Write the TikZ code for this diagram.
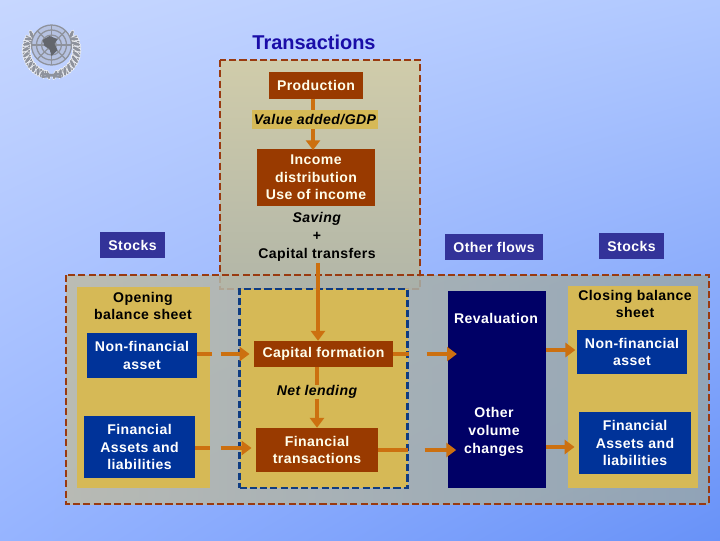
\documentclass[tikz,border=0pt]{standalone}
\usepackage{fontspec}
\setmainfont{Liberation Sans}[LetterSpace=3]
\newfontfamily\titlefont{Liberation Sans}
\usetikzlibrary{arrows.meta,shadings}
\definecolor{brownbox}{HTML}{993A00}
\definecolor{bluebox}{HTML}{003399}
\definecolor{navybox}{HTML}{000066}
\definecolor{stockbox}{HTML}{333399}
\definecolor{panel}{HTML}{D6B956}
\definecolor{flowline}{HTML}{CC7010}
\definecolor{dashbrown}{HTML}{993A10}
\definecolor{dashblue}{HTML}{0F3C82}
\definecolor{skyul}{HTML}{C7D7FF}
\definecolor{skyur}{HTML}{B0C8FF}
\definecolor{skyll}{HTML}{96B4FF}
\definecolor{skylr}{HTML}{6892F8}
\definecolor{uppertop}{HTML}{D0CCAA}
\definecolor{upperbot}{HTML}{B2B6A8}
\definecolor{lowerleft}{HTML}{BEBCA8}
\definecolor{lowerright}{HTML}{96A6AC}
\definecolor{titleblue}{HTML}{1A0DA8}
\definecolor{emblemgray}{HTML}{8E929C}
\tikzset{
	wh/.style 2 args={minimum width=#1*0.025cm,minimum height=#2*0.025cm},
	box/.style={inner sep=0pt,align=center,font=\bfseries\fontsize{10}{12.6}\selectfont},
	brownnode/.style={box,fill=brownbox,text=white!92!yellow},
	bluenode/.style={box,fill=bluebox,text=white},
	stocknode/.style={box,fill=stockbox,text=white},
	navynode/.style={box,fill=navybox,text=white},
	panelnode/.style={box,fill=panel,text=black},
	plaintext/.style={box,text=black},
	slanted/.style={font=\bfseries\itshape\fontsize{10}{12.6}\selectfont},
	flow/.style={draw=flowline,line width=3.5pt,-{Triangle[length=7pt,width=10pt]}},
	gapflow/.style 2 args={flow,dash pattern=on #1 off #2 on 200pt off 0pt},
	framedash/.style={line width=2.1pt,dash pattern=on 5pt off 2.3pt},
	leaf/.style={fill=emblemgray,draw=white,line width=0.3pt},
}
\begin{document}
\begin{tikzpicture}[x=0.025cm,y=-0.025cm]
	% Background
	\shade[upper left=skyul,upper right=skyur,lower left=skyll,lower right=skylr] (0,0) rectangle (720,540);
	\useasboundingbox (0,0) rectangle (720,540);

	% Emblem
	\begin{scope}[shift={(51.5,50)}]
		\foreach \a in {0,...,9}
		{
			\begin{scope}[rotate={-90+14+\a*12}]
				\fill[leaf,rotate around={35:(25,-2.5)}] (25,-2.5) ellipse [x radius=5,y radius=2];
				\fill[leaf,rotate around={-35:(25,2.5)}] (25,2.5) ellipse [x radius=5,y radius=2];
			\end{scope}
			\begin{scope}[rotate={-90-14-\a*12}]
				\fill[leaf,rotate around={35:(25,-2.5)}] (25,-2.5) ellipse [x radius=5,y radius=2];
				\fill[leaf,rotate around={-35:(25,2.5)}] (25,2.5) ellipse [x radius=5,y radius=2];
			\end{scope}
		}
		\draw[emblemgray,line width=1.6pt] (-11,24) .. controls (-4,23) and (4,27) .. (10,27);
		\draw[emblemgray,line width=1.6pt] (11,24) .. controls (4,23) and (-4,27) .. (-10,27);
		\fill[skyul!70!emblemgray] (0,-5) circle (20);
		\foreach \r in {20,15,10,5}
			\draw[emblemgray,line width=0.9pt] (0,-5) circle (\r);
		\foreach \a in {0,45,...,315}
			\draw[emblemgray,line width=0.9pt] (0,-5) -- ++(\a:20);
		\fill[emblemgray!70!black] (-9,-10) -- (-2,-14) -- (6,-11) -- (3,-6) -- (6,0) -- (0,6) -- (-2,-1) -- (-7,-4) -- cycle;
	\end{scope}

	% Title
	\node[box,text=titleblue,font=\titlefont\bfseries\fontsize{14.2}{16}\selectfont] (title) at (314,42) {Transactions};

	% Frames
	\draw[draw=dashbrown,framedash,top color=uppertop,bottom color=upperbot] (220,60) rectangle (420,289);
	\draw[draw=dashbrown,framedash,fill opacity=0.85,left color=lowerleft,right color=lowerright] (66,275) rectangle (709,504);

	% Panels
	\node[panelnode,wh={133}{201}] (opening) at (143.5,387.5) {};
	\node[panelnode,wh={130}{202}] (closing) at (633,387) {};
	\node[panelnode,wh={168}{199},draw=dashblue,framedash] (inner) at (323.5,388.5) {};
	\node[navynode,wh={98}{197}] (other) at (497,389.5) {};

	% Upper column
	\node[brownnode,wh={94}{27}] (production) at (316,85.5) {Production};
	\node[brownnode,wh={118}{57}] (income) at (316,177.5) {Income\\distribution\\Use of income};
	\draw[flow,shorten >=-1pt] (production.south -| 313,0) -- (income.north -| 313,0);
	\node[panelnode,slanted,wh={126}{19}] (valueadded) at (315,119.5) {Value added/GDP};
	\node[plaintext,inner sep=1pt] (saving) at (317,237) {\textit{Saving}\\+\\Capital transfers};

	% Stocks and flows headings
	\node[stocknode,wh={65}{26}] (stocksleft) at (132.5,245) {Stocks};
	\node[stocknode,wh={98}{26}] (otherflows) at (494,247) {Other flows};
	\node[stocknode,wh={65}{26}] (stocksright) at (631.5,246) {Stocks};

	% Opening and closing balance sheets
	\node[plaintext] (openingtext) at (143,306) {Opening\\balance sheet};
	\node[plaintext] (closingtext) at (635,304) {Closing balance\\sheet};
	\node[bluenode,wh={110}{45}] (nonfinleft) at (142,355.5) {Non-financial\\asset};
	\node[bluenode,wh={111}{62}] (finleft) at (139.5,447) {Financial\\Assets and\\liabilities};
	\node[bluenode,wh={110}{44}] (nonfinright) at (632,352) {Non-financial\\asset};
	\node[bluenode,wh={112}{62}] (finright) at (635,443) {Financial\\Assets and\\liabilities};

	% Middle column
	\node[brownnode,wh={139}{26}] (capital) at (323.5,354) {Capital formation};
	\node[brownnode,wh={122}{44}] (fintrans) at (317,450) {Financial\\transactions};
	\node[plaintext,slanted] (netlending) at (317,392) {Net lending};

	% Other flows
	\node[box,text=white] (revaluation) at (496,318) {Revaluation};
	\node[box,text=white] (volume) at (494,432) {Other\\volume\\changes};

	% Flows
	\draw[flow] (saving.south -| 318,0) -- (capital.north -| 318,0);
	\draw[flow,-] (capital.south -| netlending) -- (netlending.north);
	\draw[flow] (netlending.south) -- (fintrans.north -| netlending);
	\draw[gapflow={10.2pt}{6.4pt},shorten >=3pt] (capital -| nonfinleft.east) -- (capital.west);
	\draw[gapflow={10.2pt}{7.8pt},shorten >=3pt] ([yshift=0.05cm]fintrans -| finleft.east) -- ([yshift=0.05cm]fintrans.west);
	\draw[gapflow={11pt}{12.8pt},shorten >=-6.5pt] (capital.east) -- (capital -| other.west);
	\draw[gapflow={21pt}{12pt},shorten >=-6pt] (fintrans.east) -- (fintrans -| other.west);
	\draw[flow,shorten >=1pt] ([yshift=0.05cm]nonfinright -| other.east) -- ([yshift=0.05cm]nonfinright.west);
	\draw[flow,shorten >=3pt] ([yshift=-0.1cm]finright -| other.east) -- ([yshift=-0.1cm]finright.west);
\end{tikzpicture}
\end{document}
